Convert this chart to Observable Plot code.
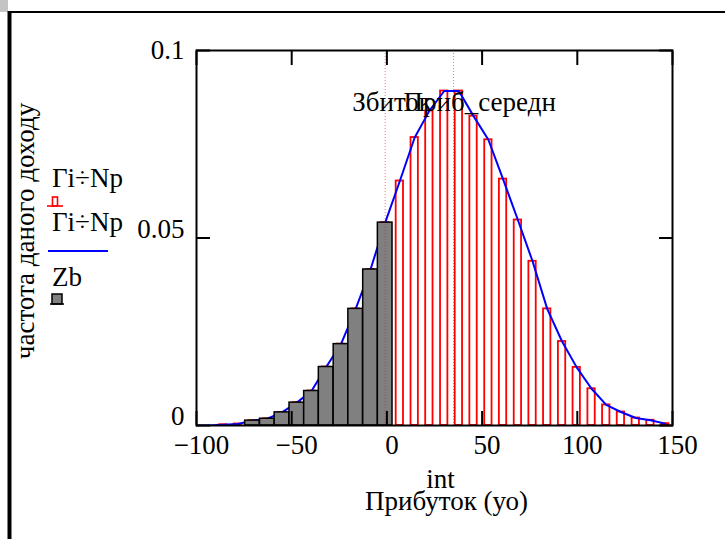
<!DOCTYPE html>
<html>
<head>
<meta charset="utf-8">
<script src="https://cdn.jsdelivr.net/npm/d3@7"></script>
<script src="https://cdn.jsdelivr.net/npm/@observablehq/plot@0.6"></script>
<style>
  html, body { margin: 0; padding: 0; background: #fff; }
  #chart { width: 725px; height: 539px; }
  #chart svg, #chart svg text { font-family: "Liberation Serif", "Times New Roman", serif !important; }
</style>
</head>
<body>
<div id="chart"></div>
<script>
// ---- data ----
const binCenters = [-101.5, -93.8, -86.0, -78.3, -70.6, -62.8, -55.1, -47.3, -39.6, -31.9, -24.1, -16.4, -8.6, -0.9,
  6.8, 14.6, 22.3, 30.1, 37.8, 45.5, 53.3, 61.0, 68.8, 76.5, 84.2, 92.0, 99.7, 107.5, 115.2, 122.9, 130.7, 138.4, 146.2];
const freqGi = [0, 0, 0.0002, 0.0004, 0.0013, 0.0018, 0.0035, 0.0061, 0.0092, 0.0156, 0.0217, 0.0311, 0.0416, 0.0541,
  0.0652, 0.0768, 0.0839, 0.0892, 0.0892, 0.0825, 0.0762, 0.0657, 0.0548, 0.0438, 0.0311, 0.0224, 0.0155, 0.0098, 0.0055, 0.0036, 0.0020, 0.0014, 0.0005];
const zbCenters = [-70.6, -62.8, -55.1, -47.3, -39.6, -31.9, -24.1, -16.4, -8.6, -0.9];
const zbValues  = [0.0013, 0.0018, 0.0035, 0.0061, 0.0092, 0.0156, 0.0217, 0.0311, 0.0416, 0.0541];
const markerValues = [-0.9, 35.0];
const markerLabels = ["Збиток", "Приб_середн"];
const xTicks = [-100, -50, 0, 50, 100, 150];
const yTicks = [0, 0.05, 0.1];
const legendLabels = ["Гі÷Np", "Гі÷Np", "Zb"];
const yTitle = "частота даного доходу";
const xTitle1 = "int";
const xTitle2 = "Прибуток (уо)";

// ---- build tables ----
const step = binCenters[1] - binCenters[0];
const gi = binCenters.map((c, i) => ({c, v: freqGi[i]}));
const zb = zbCenters.map((c, i) => ({c, v: zbValues[i]}));
const yMax = d3.max(yTicks);

const FONT = "Liberation Serif, Times New Roman, serif";
const fmt = d => (d < 0 ? "\u2212" + String(-d) : String(d));

const plot = Plot.plot({
  width: 725,
  height: 539,
  marginLeft: 196,
  marginRight: 53,
  marginTop: 50,
  marginBottom: 114,
  x: {domain: [-100, 150]},
  y: {domain: [0, 0.1]},
  style: {fontFamily: FONT, fontSize: "27px", background: "white", color: "black", overflow: "visible"},
  marks: [
    // red histogram bars (outlined)
    Plot.rect(gi, {x1: d => d.c - step / 4, x2: d => d.c + step / 4, y1: 0, y2: "v",
      fill: "none", stroke: "#ff0000", strokeWidth: 1.8, clip: true}),
    // blue polyline
    Plot.line(gi, {x: "c", y: "v", stroke: "#0000ff", strokeWidth: 2, clip: true}),
    // gray loss bars
    Plot.rect(zb, {x1: d => d.c - step / 2, x2: d => d.c + step / 2, y1: 0, y2: "v",
      fill: "#808080", stroke: "black", strokeWidth: 1.5}),
    // marker lines
    Plot.ruleX(markerValues, {stroke: "#ff0000", strokeOpacity: 0.55, strokeWidth: 1, strokeDasharray: "1,2"}),
    Plot.text([0], {x: () => markerValues[0], text: () => markerLabels[0], frameAnchor: "top",
      textAnchor: "start", lineAnchor: "bottom", dx: -33, dy: 60, fill: "black"}),
    Plot.text([0], {x: () => markerValues[1], text: () => markerLabels[1], frameAnchor: "top",
      textAnchor: "start", lineAnchor: "bottom", dx: -50, dy: 60, fill: "black"}),
    // frame
    Plot.frame({stroke: "black", strokeWidth: 2}),
    // inward ticks
    Plot.axisX(xTicks, {anchor: "bottom", tickSize: 14, dy: -14, tickFormat: () => "", strokeWidth: 2, label: null}),
    Plot.axisX(xTicks, {anchor: "top", tickSize: 14, dy: 14, tickFormat: () => "", strokeWidth: 2, label: null}),
    Plot.axisY(yTicks, {anchor: "left", tickSize: 14, dx: 14, tickFormat: () => "", strokeWidth: 2, label: null}),
    Plot.axisY(yTicks, {anchor: "right", tickSize: 14, dx: -14, tickFormat: () => "", strokeWidth: 2, label: null}),
    // tick labels
    Plot.axisX(xTicks, {anchor: "bottom", tickSize: 0, tickPadding: 9, dx: 5, tickFormat: fmt, label: null}),
    Plot.axisY(yTicks.filter(t => t === yMax), {anchor: "left", tickSize: 0, tickPadding: 12, dy: 0, tickFormat: fmt, label: null}),
    Plot.axisY(yTicks.filter(t => t !== yMax), {anchor: "left", tickSize: 0, tickPadding: 12, dy: -9, tickFormat: fmt, label: null}),
    // axis titles
    Plot.text([0], {text: () => yTitle, frameAnchor: "left", rotate: -90, dx: -171, dy: -7,
      textAnchor: "middle", lineAnchor: "middle", fill: "black"}),
    Plot.text([0], {text: () => xTitle1, frameAnchor: "bottom", dx: 6, dy: 54,
      textAnchor: "middle", lineAnchor: "middle", fill: "black"}),
    Plot.text([0], {text: () => xTitle2, frameAnchor: "bottom", dx: 12, dy: 76,
      textAnchor: "middle", lineAnchor: "middle", fill: "black"})
  ]
});

document.getElementById("chart").appendChild(plot);

// ---- worksheet frame and legend (outside the plot region) ----
const svg = d3.select(plot);
const deco = svg.append("g");
deco.append("rect").attr("x", 0).attr("y", 0).attr("width", 8).attr("height", 12).attr("fill", "#c4c4c4");
deco.append("line").attr("x1", 8).attr("x2", 725).attr("y1", 12).attr("y2", 12).attr("stroke", "black").attr("stroke-width", 2);
deco.append("line").attr("x1", 9.5).attr("x2", 9.5).attr("y1", 11).attr("y2", 539).attr("stroke", "black").attr("stroke-width", 4);

const leg = svg.append("g").attr("font-size", 27).attr("fill", "black").attr("text-anchor", "start");
leg.append("text").attr("x", 52).attr("y", 187).text(legendLabels[0]);
leg.append("rect").attr("x", 52.5).attr("y", 197).attr("width", 5).attr("height", 9).attr("fill", "none").attr("stroke", "#ff0000").attr("stroke-width", 1.6);
leg.append("line").attr("x1", 47).attr("x2", 63).attr("y1", 206).attr("y2", 206).attr("stroke", "#ff0000").attr("stroke-width", 1.6);
leg.append("text").attr("x", 52).attr("y", 231).text(legendLabels[1]);
leg.append("line").attr("x1", 48).attr("x2", 108).attr("y1", 251).attr("y2", 251).attr("stroke", "#0000ff").attr("stroke-width", 2);
leg.append("text").attr("x", 52).attr("y", 286).text(legendLabels[2]);
leg.append("rect").attr("x", 52).attr("y", 294).attr("width", 10).attr("height", 10).attr("fill", "#808080").attr("stroke", "black").attr("stroke-width", 1.5);
leg.append("line").attr("x1", 50).attr("x2", 64).attr("y1", 304).attr("y2", 304).attr("stroke", "black").attr("stroke-width", 1.5);
</script>
</body>
</html>
